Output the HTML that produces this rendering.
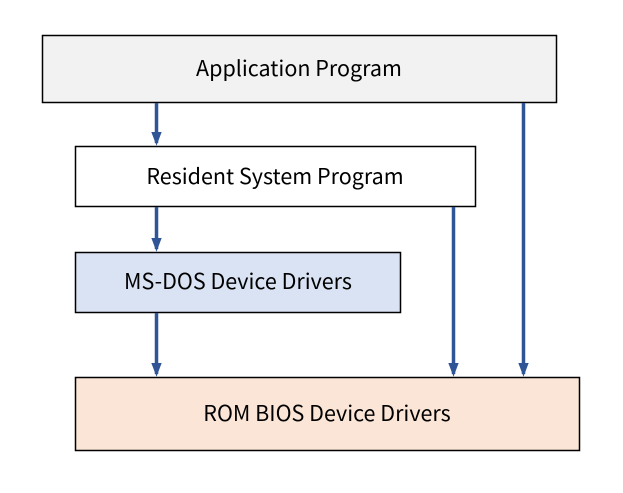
<!DOCTYPE html>
<html><head><style>
body{margin:0;width:623px;height:488px;background:#fff;overflow:hidden}
</style></head><body>
<svg width="623" height="488" viewBox="0 0 623 488" xmlns="http://www.w3.org/2000/svg" font-family="Noto Sans CJK KR, DejaVu Sans, sans-serif" font-size="21.5">
<defs><marker id="a" markerWidth="4" markerHeight="4" refX="3.2" refY="2" orient="auto" markerUnits="strokeWidth"><path d="M0,0.5 L4,2 L0,3.5 z" fill="#2f5597"/></marker></defs>
<rect x="42.5" y="35.5" width="514" height="67" fill="#f2f2f2" stroke="#000" stroke-width="1.5"/>
<text x="299" y="76" text-anchor="middle">Application Program</text>
<rect x="75.5" y="146.5" width="400" height="60" fill="#fff" stroke="#000" stroke-width="1.5"/>
<text x="275" y="184" text-anchor="middle">Resident System Program</text>
<rect x="75.5" y="252.5" width="325" height="60" fill="#dae3f3" stroke="#000" stroke-width="1.5"/>
<text x="238" y="289" text-anchor="middle">MS-DOS Device Drivers</text>
<rect x="75.5" y="377.5" width="504" height="73" fill="#fbe5d6" stroke="#000" stroke-width="1.5"/>
<text x="327" y="421" text-anchor="middle">ROM BIOS Device Drivers</text>
<g stroke="#2f5597" stroke-width="3.5" marker-end="url(#a)">
<line x1="156.5" y1="103" x2="156.5" y2="143"/>
<line x1="156.5" y1="207" x2="156.5" y2="249"/>
<line x1="156.5" y1="313" x2="156.5" y2="374"/>
<line x1="453.5" y1="207" x2="453.5" y2="374"/>
<line x1="523.5" y1="103" x2="523.5" y2="374"/>
</g>
</svg>
</body></html>
